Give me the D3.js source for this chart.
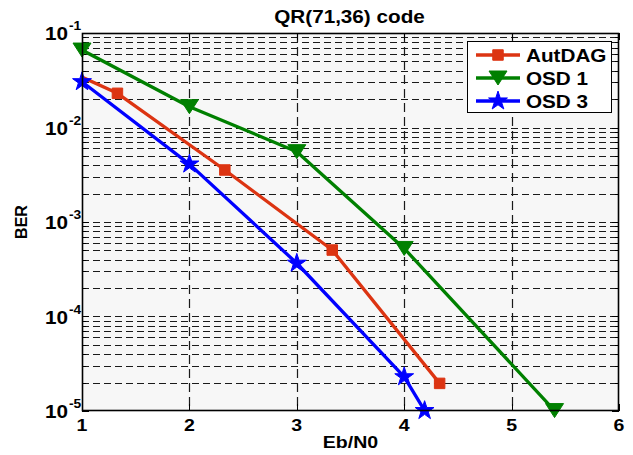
<!DOCTYPE html>
<html>
<head>
<meta charset="utf-8">
<script src="https://cdn.jsdelivr.net/npm/d3@7/dist/d3.min.js"></script>
<style>
  html, body { margin: 0; padding: 0; background: #ffffff; }
  svg { display: block; }
  text { font-family: "Liberation Sans", Arial, Helvetica, sans-serif; font-weight: bold; fill: #000; }
</style>
</head>
<body>
<svg id="chart" width="633" height="455"></svg>
<script>
// ---------------- data ----------------
const title = "QR(71,36) code";
const xLabel = "Eb/N0";
const yLabel = "BER";
const xTicks = [1, 2, 3, 4, 5, 6];
const yTickExponents = [-1, -2, -3, -4, -5];

const autdagX = [0.33, 1.33, 2.33, 3.33, 4.33];
const autdagY = [0.076, 0.023, 0.00355, 0.000505, 0.0000196];

const osd1X = [1, 2, 3, 4, 5.4];
const osd1Y = [0.066, 0.0166, 0.00555, 0.000525, 0.0000101];

const osd3X = [1, 2, 3, 4, 4.19];
const osd3Y = [0.0305, 0.0041, 0.000366, 0.000023, 0.0000101];

const seriesNames = ["AutDAG", "OSD 1", "OSD 3"];
const seriesColors = ["#dc3412", "#008000", "#0000ff"];
const seriesMarkers = ["square", "triangleDown", "star"];

// ---------------- layout ----------------
const plot = { left: 82, right: 619, top: 33, bottom: 411 };
const TX = 1.15; // horizontal stretch of the text in the reference

const svg = d3.select("#chart");
const x = d3.scaleLinear().domain([1, 6]).range([plot.left, plot.right]);
const y = d3.scaleLog().domain([1e-5, 1e-1]).range([plot.bottom, plot.top]);

function stext(g, tx, ty, str, size, anchor) {
  return g.append("text")
    .attr("transform", `translate(${tx},${ty}) scale(${TX},1)`)
    .attr("text-anchor", anchor || "start")
    .style("font-size", size + "px")
    .text(str);
}

// plot background
svg.append("rect")
  .attr("x", plot.left).attr("y", plot.top)
  .attr("width", plot.right - plot.left).attr("height", plot.bottom - plot.top)
  .attr("fill", "#f7f7f7");

// grid
const grid = svg.append("g").attr("stroke", "#1a1a1a").attr("stroke-width", 1.2)
  .attr("stroke-dasharray", "7,4").attr("fill", "none");
const minorVals = [];
for (let e = -5; e <= -2; e++) {
  for (let m = 1; m <= 9; m++) {
    const v = m * Math.pow(10, e);
    if (v > 1e-5 * 1.0001 && v < 1e-1 * 0.9999) minorVals.push(v);
  }
}
minorVals.forEach(v => {
  const yy = Math.round(y(v)) + 0.5;
  grid.append("line").attr("x1", plot.left).attr("x2", plot.right)
    .attr("y1", yy).attr("y2", yy);
});
xTicks.slice(1, -1).forEach(t => {
  const xx = Math.round(x(t)) + 0.5;
  grid.append("line").attr("x1", xx).attr("x2", xx)
    .attr("y1", plot.top).attr("y2", plot.bottom)
    .attr("stroke-dasharray", "9,5");
});

// ticks (inward)
const ticks = svg.append("g").attr("stroke", "#000").attr("stroke-width", 1);
minorVals.concat([1e-5, 1e-1]).forEach(v => {
  const yy = Math.round(y(v)) + 0.5;
  const isMajor = Math.abs(Math.log10(v) - Math.round(Math.log10(v))) < 1e-6;
  const len = isMajor ? 7 : 4;
  ticks.append("line").attr("x1", plot.left).attr("x2", plot.left + len).attr("y1", yy).attr("y2", yy);
  ticks.append("line").attr("x1", plot.right - len).attr("x2", plot.right).attr("y1", yy).attr("y2", yy);
});
xTicks.forEach(t => {
  const xx = Math.round(x(t)) + 0.5;
  ticks.append("line").attr("x1", xx).attr("x2", xx).attr("y1", plot.bottom).attr("y2", plot.bottom - 7);
  ticks.append("line").attr("x1", xx).attr("x2", xx).attr("y1", plot.top).attr("y2", plot.top + 7);
});

// clip
svg.append("clipPath").attr("id", "clip").append("rect")
  .attr("x", plot.left).attr("y", plot.top)
  .attr("width", plot.right - plot.left).attr("height", plot.bottom - plot.top);

// markers
const sym = {
  square: d3.symbol().type(d3.symbolSquare).size(110),
  star: d3.symbol().type(d3.symbolStar).size(110)
};
function markerPath(kind) {
  if (kind === "triangleDown") {
    const w = 18, h = 14;
    return `M${-w/2},${-h/2}L${w/2},${-h/2}L0,${h/2}Z`;
  }
  return sym[kind]();
}

const seriesData = [
  autdagX.map((v, i) => [v, autdagY[i]]),
  osd1X.map((v, i) => [v, osd1Y[i]]),
  osd3X.map((v, i) => [v, osd3Y[i]])
];
const line = d3.line().x(d => x(d[0])).y(d => y(d[1]));
const dataG = svg.append("g").attr("clip-path", "url(#clip)");
const markG = svg.append("g");
seriesData.forEach((pts, si) => {
  dataG.append("path").datum(pts)
    .attr("d", line)
    .attr("fill", "none")
    .attr("stroke", seriesColors[si])
    .attr("stroke-width", 3.3)
    .attr("stroke-linejoin", "round");
});
seriesData.forEach((pts, si) => {
  pts.filter(d => d[0] >= 1 && d[0] <= 6).forEach(d => {
    markG.append("path")
      .attr("d", markerPath(seriesMarkers[si]))
      .attr("transform", `translate(${x(d[0])},${y(d[1])})`)
      .attr("fill", seriesColors[si])
      .attr("stroke", seriesColors[si])
      .attr("stroke-width", 1);
  });
});

// axes box
svg.append("rect")
  .attr("x", plot.left + 0.5).attr("y", plot.top + 0.5)
  .attr("width", plot.right - plot.left - 1).attr("height", plot.bottom - plot.top - 1)
  .attr("fill", "none").attr("stroke", "#000").attr("stroke-width", 1.6);

// x tick labels
xTicks.forEach(t => {
  stext(svg, x(t), 431, String(t), 17, "middle");
});

// y tick labels
yTickExponents.forEach(e => {
  const yy = y(Math.pow(10, e));
  svg.append("text")
    .attr("transform", `translate(68,${yy + 7}) scale(${TX},1)`)
    .attr("text-anchor", "end")
    .style("font-size", "18px")
    .text("10");
  svg.append("text")
    .attr("transform", `translate(69,${yy - 3}) scale(${TX},1)`)
    .style("font-size", "12px")
    .text(String(e));
});

// title and axis labels
stext(svg, (plot.left + plot.right) / 2 - 1, 23, title, 18, "middle");
stext(svg, (plot.left + plot.right) / 2, 448, xLabel, 17, "middle");
svg.append("text")
  .attr("transform", `translate(27,${(plot.top + plot.bottom) / 2}) rotate(-90)`)
  .attr("text-anchor", "middle")
  .style("font-size", "16px")
  .text(yLabel);

// legend
const lg = svg.append("g");
lg.append("rect").attr("x", 467.5).attr("y", 41.5).attr("width", 144).attr("height", 71)
  .attr("fill", "#fff").attr("stroke", "#000").attr("stroke-width", 1);
seriesNames.forEach((name, i) => {
  const ly = 55 + i * 23;
  lg.append("line").attr("x1", 476).attr("x2", 520).attr("y1", ly).attr("y2", ly)
    .attr("stroke", seriesColors[i]).attr("stroke-width", 3.3);
  lg.append("path").attr("d", markerPath(seriesMarkers[i]))
    .attr("transform", `translate(498,${ly})`)
    .attr("fill", seriesColors[i]).attr("stroke", seriesColors[i]);
  stext(lg, 526, ly + 6.5, name, 18, "start");
});
</script>
</body>
</html>
